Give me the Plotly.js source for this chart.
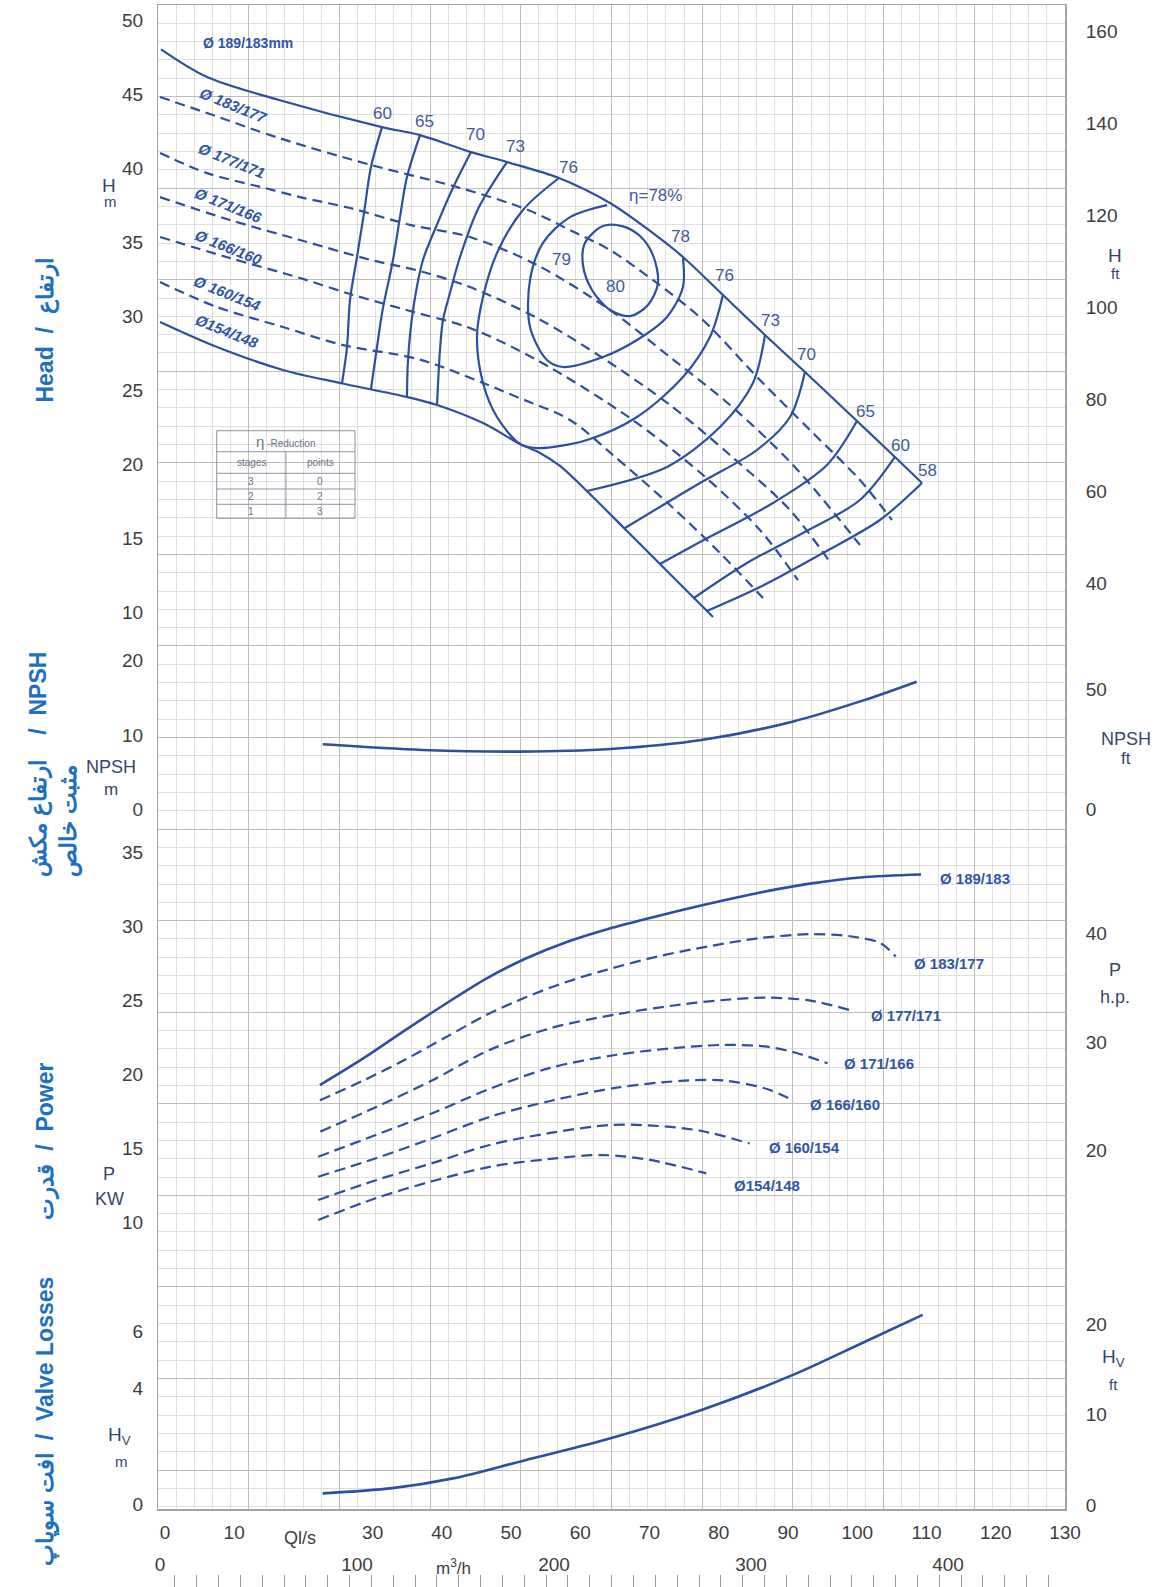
<!DOCTYPE html>
<html>
<head>
<meta charset="utf-8">
<script src="https://cdn.plot.ly/plotly-3.0.1.min.js"></script>
<style>
  html, body { margin: 0; padding: 0; background: #ffffff; }
  #chart { width: 1164px; height: 1587px; }
</style>
</head>
<body>
<div id="chart"></div>
<script>
// ---------- Head H [m] against flow Q [l/s], one curve per impeller diameter ----------
const qHead189 = [-0.57, 6.08, 16.47, 31.35, 36.84, 44.20, 49.40, 56.91, 64.28, 70.06, 74.82, 80.60, 86.67, 92.44, 99.95, 105.44, 109.34];
const hHead189 = [48.03, 46.16, 44.61, 42.78, 42.24, 41.09, 40.42, 39.34, 37.65, 35.76, 34.00, 31.43, 28.73, 26.23, 22.92, 20.49, 18.73];
const qHead183 = [-0.71, 6.08, 16.48, 29.76, 42.18, 52.44, 58.50, 64.28, 71.07, 77.71, 85.94, 93.16, 100.38, 105.01];
const hHead183 = [44.81, 43.73, 42.04, 40.22, 38.73, 37.18, 35.82, 34.47, 32.24, 29.74, 25.69, 22.31, 18.93, 16.23];
const qHead177 = [-0.71, 6.08, 13.88, 19.51, 26.73, 35.54, 44.06, 53.74, 64.28, 72.94, 81.61, 90.71, 100.38];
const hHead177 = [41.03, 39.67, 38.73, 38.05, 37.31, 36.16, 35.35, 33.46, 30.42, 27.24, 24.00, 19.95, 14.54];
const qHead171 = [-0.71, 9.40, 19.51, 29.76, 36.84, 44.06, 53.74, 63.27, 72.94, 81.61, 90.28, 96.05];
const hHead171 = [38.05, 36.50, 35.15, 33.80, 33.05, 31.97, 29.88, 27.17, 24.00, 20.62, 16.90, 13.39];
const qHead166 = [-0.71, 9.40, 19.51, 26.73, 35.40, 44.06, 53.74, 67.17, 77.71, 85.94, 91.43];
const hHead166 = [35.35, 33.93, 32.58, 31.50, 30.35, 29.20, 27.04, 23.12, 19.27, 15.55, 12.17];
const qHead160 = [-0.71, 7.52, 17.05, 25.72, 35.40, 39.29, 45.94, 50.85, 58.50, 64.71, 72.94, 80.17, 86.38];
const hHead160 = [32.31, 30.62, 29.27, 28.05, 27.24, 26.70, 25.49, 24.54, 22.99, 20.62, 17.24, 14.00, 10.96];
const qHead154 = [-0.71, 7.52, 17.05, 25.29, 34.96, 39.30, 45.94, 51.28, 54.17, 57.06, 61.82, 66.73, 71.79, 76.99, 79.16];
const hHead154 = [29.61, 27.92, 26.37, 25.49, 24.54, 24.00, 22.78, 21.37, 20.76, 19.88, 17.78, 15.49, 13.12, 10.69, 9.68];

// ---------- Iso-efficiency lines (Q, H) ----------
const qEff60 = [31.35, 29.76, 28.75, 27.74, 26.73, 26.30, 25.58];
const hEff60 = [42.78, 40.08, 36.97, 34.00, 31.09, 27.92, 25.49];
const qEff65 = [36.84, 34.96, 33.95, 32.94, 31.44, 30.63, 29.76];
const hEff65 = [42.24, 39.40, 36.70, 33.80, 30.42, 27.92, 25.08];
const qEff70 = [44.20, 41.46, 39.15, 37.27, 35.84, 35.11, 34.96];
const hEff70 = [41.09, 38.53, 36.03, 33.80, 30.42, 27.04, 24.54];
const qEff73 = [49.40, 45.36, 42.62, 41.17, 40.16, 39.73, 39.30];
const hEff73 = [40.42, 37.38, 34.00, 31.57, 29.74, 27.72, 24.00];
const qEff76 = [56.91, 51.71, 47.96, 45.94, 45.07, 45.94, 47.96, 51.28, 53.74, 60.96, 68.18, 74.82, 78.72, 80.60];
const hEff76 = [39.34, 37.18, 34.27, 31.30, 28.59, 25.49, 23.19, 21.37, 21.09, 21.64, 23.19, 25.89, 28.59, 31.43];
const qEff79 = [63.85, 58.50, 54.60, 52.73, 52.73, 55.18, 57.49, 63.27, 68.18, 72.51, 74.82, 74.82];
const hEff79 = [37.51, 36.70, 34.95, 32.45, 29.27, 27.04, 26.57, 27.24, 28.39, 29.95, 31.97, 33.93];
const qEff80 = [63.27, 60.67, 60.38, 61.68, 64.28, 67.17, 69.77, 71.21, 70.49, 68.61, 66.01, 63.27];
const hEff80 = [36.09, 34.95, 33.46, 31.77, 30.42, 30.01, 30.76, 32.24, 34.13, 35.42, 36.09, 36.09];
const qEff73R = [86.67, 84.93, 80.17, 72.51, 60.96];
const hEff73R = [28.73, 25.49, 22.52, 19.81, 18.19];
const qEff70R = [92.44, 90.28, 85.51, 77.28, 66.45];
const hEff70R = [26.23, 23.19, 20.96, 18.73, 15.69];
const qEff65R = [99.95, 95.62, 87.82, 77.28, 71.50];
const hEff65R = [22.92, 19.95, 17.38, 14.74, 13.26];
const qEff60R = [105.44, 100.38, 92.15, 84.07, 76.41];
const hEff60R = [20.49, 17.58, 15.35, 13.32, 10.96];
const qEff58R = [109.34, 103.27, 95.04, 85.94, 78.29];
const hEff58R = [18.73, 16.23, 14.00, 11.70, 10.08];

// Efficiency labels
const effText = ['60', '65', '70', '73', '76', 'η=78%', '78', '76', '73', '70', '65', '60', '58', '79', '80'];
const effQ = [31.44, 37.42, 44.88, 50.70, 58.36, 70.92, 74.53, 80.85, 87.53, 92.69, 101.17, 106.31, 110.21, 57.32, 65.06];
const effH = [43.70, 43.16, 42.27, 41.44, 40.08, 38.16, 35.42, 32.76, 29.74, 27.43, 23.53, 21.27, 19.56, 33.80, 32.01];

// Diameter labels on the head curves
const headDiaText = ['Ø 189/183mm', 'Ø 183/177', 'Ø 177/171', 'Ø 171/166', 'Ø 166/160', 'Ø 160/154', 'Ø154/148'];
const headDiaQ = [12.0, 9.95, 9.66, 9.23, 9.23, 9.07, 9.07];
const headDiaH = [48.49, 44.25, 40.55, 37.48, 34.61, 31.53, 29.00];

// ---------- NPSH required [m] ----------
const qNpsh = [22.79, 37.23, 51.24, 64.37, 77.50, 90.62, 101.10, 108.57];
const npsh = [8.74, 7.98, 7.76, 8.11, 9.31, 11.76, 14.67, 17.10];

// ---------- Shaft power P [kW] ----------
const qPow189 = [22.38, 28.81, 34.66, 40.50, 46.35, 52.20, 58.05, 63.89, 71.20, 78.51, 85.82, 93.13, 100.44, 109.21];
const pPow189 = [19.29, 21.14, 22.98, 24.76, 26.46, 27.85, 28.95, 29.81, 30.70, 31.52, 32.27, 32.88, 33.30, 33.50];
const qPow183 = [22.38, 28.81, 34.66, 40.50, 46.35, 52.20, 58.05, 63.89, 71.20, 78.51, 85.82, 93.13, 98.97, 103.36, 105.55];
const pPow183 = [18.27, 19.63, 21.00, 22.50, 24.00, 25.23, 26.26, 27.08, 27.97, 28.65, 29.20, 29.47, 29.33, 28.86, 27.97];
const qPow177 = [22.45, 30.59, 38.73, 46.88, 55.64, 65.03, 74.43, 80.69, 86.96, 93.22, 98.85];
const pPow177 = [16.15, 17.83, 19.64, 21.66, 23.12, 24.05, 24.72, 25.03, 25.19, 24.99, 24.36];
const qPow171 = [22.14, 30.59, 38.73, 46.88, 55.64, 65.03, 73.18, 80.69, 86.96, 91.35, 95.72];
const pPow171 = [14.46, 15.95, 17.41, 19.03, 20.45, 21.32, 21.77, 22.00, 21.88, 21.44, 20.76];
const qPow166 = [22.14, 30.59, 38.73, 46.88, 55.64, 65.03, 74.43, 80.69, 86.96, 90.85];
const pPow166 = [13.11, 14.37, 15.72, 17.14, 18.22, 19.10, 19.57, 19.60, 19.03, 18.22];
const qPow160 = [22.14, 30.59, 38.73, 46.88, 55.64, 64.41, 71.30, 77.57, 84.46];
const pPow160 = [11.54, 12.89, 14.04, 15.25, 16.06, 16.60, 16.53, 16.19, 15.35];
const qPow154 = [22.14, 30.59, 38.73, 46.88, 55.64, 63.15, 70.06, 78.19];
const pPow154 = [10.19, 11.68, 12.82, 13.77, 14.31, 14.57, 14.24, 13.33];

const powDiaText = ['Ø 189/183', 'Ø 183/177', 'Ø 177/171', 'Ø 171/166', 'Ø 166/160', 'Ø 160/154', 'Ø154/148'];
const powDiaQ = [116.99, 113.24, 107.09, 103.15, 98.25, 92.33, 86.91];
const powDiaP = [33.23, 27.49, 24.01, 20.73, 17.99, 15.06, 12.53];

// ---------- Valve losses Hv [m] ----------
const qValve = [22.79, 32.85, 41.60, 51.24, 64.37, 77.50, 90.62, 101.10, 109.44];
const hValve = [0.37, 0.55, 0.89, 1.47, 2.28, 3.26, 4.47, 5.63, 6.56];

// ---------- Axis tick values ----------
const flowTicks = [0, 10, 30, 40, 50, 60, 70, 80, 90, 100, 110, 120, 130];
const cubicTicks = [0, 100, 200, 300, 400];
const headTicks = [10, 15, 20, 25, 30, 35, 40, 45, 50];
const headFtTicks = [40, 60, 80, 100, 120, 140, 160];
const npshTicks = [0, 10, 20];
const npshFtTicks = [0, 50];
const powerTicks = [10, 15, 20, 25, 30, 35];
const hpTicks = [20, 30, 40];
const valveTicks = [0, 4, 6];
const valveFtTicks = [0, 10, 20];

// Efficiency-reduction table
const reductionStages = ['3', '2', '1'];
const reductionPoints = ['0', '2', '3'];

// ---------------------------------------------------------------------------
const BLUE = '#2c4f9f';
const TXT = '#3d3d3d';
const FONT = 'Liberation Sans, Arial, sans-serif';

function curve(q, v, yaxis, dashed, width) {
  return {
    type: 'scatter', mode: 'lines', x: q, y: v, xaxis: 'x2', yaxis: yaxis,
    line: { color: BLUE, width: width || 2.2, shape: 'spline', smoothing: 0.9, dash: dashed ? dashed : 'solid' },
    hoverinfo: 'skip', showlegend: false
  };
}
function placeholder(xa, ya) {
  return { type: 'scatter', mode: 'markers', x: [null], y: [null], xaxis: xa, yaxis: ya, hoverinfo: 'skip', showlegend: false };
}

const HD = '10px,6px';
const PD = '11px,6px';

const traces = [
  placeholder('x', 'y'),
  // head panel
  curve(qHead189, hHead189, 'y2'),
  curve(qHead183, hHead183, 'y2', HD),
  curve(qHead177, hHead177, 'y2', HD),
  curve(qHead171, hHead171, 'y2', HD),
  curve(qHead166, hHead166, 'y2', HD),
  curve(qHead160, hHead160, 'y2', HD),
  curve(qHead154, hHead154, 'y2'),
  curve(qEff60, hEff60, 'y2'),
  curve(qEff65, hEff65, 'y2'),
  curve(qEff70, hEff70, 'y2'),
  curve(qEff73, hEff73, 'y2'),
  curve(qEff76, hEff76, 'y2'),
  curve(qEff79, hEff79, 'y2'),
  curve(qEff80, hEff80, 'y2'),
  curve(qEff73R, hEff73R, 'y2'),
  curve(qEff70R, hEff70R, 'y2'),
  curve(qEff65R, hEff65R, 'y2'),
  curve(qEff60R, hEff60R, 'y2'),
  curve(qEff58R, hEff58R, 'y2'),
  placeholder('x2', 'y3'),
  // NPSH panel
  curve(qNpsh, npsh, 'y4', null, 2.6),
  placeholder('x2', 'y5'),
  // power panel
  curve(qPow189, pPow189, 'y6', null, 2.6),
  curve(qPow183, pPow183, 'y6', PD),
  curve(qPow177, pPow177, 'y6', PD),
  curve(qPow171, pPow171, 'y6', PD),
  curve(qPow166, pPow166, 'y6', PD),
  curve(qPow160, pPow160, 'y6', PD),
  curve(qPow154, pPow154, 'y6', PD),
  placeholder('x2', 'y7'),
  // valve losses panel
  curve(qValve, hValve, 'y8', null, 2.6),
  placeholder('x2', 'y9'),
  placeholder('x3', 'y8'),
  placeholder('x4', 'y8')
];

// Panel domains (fraction of the plotting height)
const DOM_HEAD = [0.59355, 1.0];
const DOM_NPSH = [0.47851, 0.59355];
const DOM_POW = [0.18963, 0.47851];
const DOM_VALVE = [0.04930, 0.18963];

function leftAxis(domain, range, ticks) {
  return {
    domain: domain, range: range, anchor: 'x2', tickmode: 'array', tickvals: ticks,
    showgrid: false, zeroline: false, showline: false,
    ticks: 'outside', ticklen: 10, tickcolor: 'rgba(0,0,0,0)',
    tickfont: { size: 19, color: TXT, family: FONT }, fixedrange: true
  };
}
function rightAxis(over, range, ticks) {
  return {
    overlaying: over, side: 'right', anchor: 'x2', range: range, tickmode: 'array', tickvals: ticks,
    showgrid: false, zeroline: false, showline: false,
    ticks: 'outside', ticklen: 16, tickcolor: 'rgba(0,0,0,0)',
    tickfont: { size: 19, color: TXT, family: FONT }, fixedrange: true
  };
}

const annotations = [];
function note(x, y, xref, yref, text, font, extra) {
  const a = { x: x, y: y, xref: xref, yref: yref, text: text, showarrow: false,
    xanchor: 'center', yanchor: 'middle', font: font };
  if (extra) Object.assign(a, extra);
  annotations.push(a);
}

// efficiency values
effText.forEach((t, i) => note(effQ[i], effH[i], 'x2', 'y2', t, { size: 17, color: '#3e5a9c', family: FONT }));
// diameters on the head curves
headDiaText.forEach((t, i) => note(headDiaQ[i], headDiaH[i], 'x2', 'y2',
  i === 0 ? '<b>' + t + '</b>' : '<b><i>' + t + '</i></b>',
  { size: i === 0 ? 14 : 15, color: '#2f55a3', family: FONT },
  { textangle: i === 0 ? 0 : 22 }));
// diameters on the power curves
powDiaText.forEach((t, i) => note(powDiaQ[i], powDiaP[i], 'x2', 'y6', '<b>' + t + '</b>',
  { size: 15, color: '#2f55a3', family: FONT }));

// unit labels beside the axes (paper fractions of the plotting area)
const UNIT = '#34466e';
function unit(x, y, text, size) {
  note(x, y, 'paper', 'paper', text, { size: size, color: UNIT, family: FONT });
}
unit(-0.0536, 0.88621, 'H', 19);   unit(-0.0525, 0.87597, 'm', 15);
unit(-0.0515, 0.51833, 'NPSH', 18); unit(-0.0515, 0.50424, 'm', 17);
unit(-0.0536, 0.26087, 'P', 18);   unit(-0.0536, 0.24551, 'KW', 18);
unit(-0.0426, 0.09526, 'H<sub>V</sub>', 19); unit(-0.0402, 0.07926, 'm', 15);
unit(1.0556, 0.84197, 'H', 19);    unit(1.0556, 0.83040, 'ft', 15);
unit(1.0668, 0.53603, 'NPSH', 18); unit(1.0668, 0.52339, 'ft', 17);
unit(1.0556, 0.39000, 'P', 18);    unit(1.0556, 0.37295, 'h.p.', 18);
unit(1.0534, 0.14450, 'H<sub>V</sub>', 19); unit(1.0534, 0.12788, 'ft', 15);
note(0.1561, 0.03066, 'paper', 'paper', 'Ql/s', { size: 18, color: TXT, family: FONT });
note(0.3258, 0.01264, 'paper', 'paper', 'm<sup>3</sup>/h', { size: 17, color: TXT, family: FONT });

// panel titles along the left edge
const TITLE = '#1c6fc2';
const NB = '\u00a0';
const TFONT = { size: 23, color: TITLE, family: FONT };
note(-0.1240, 0.79393, 'paper', 'paper', '<b>Head' + NB + NB + '/' + NB + NB + 'ارتفاع</b>', TFONT, { textangle: -90 });
note(-0.1150, 0.52023, 'paper', 'paper',
  '<b>ارتفاع مکش' + NB + NB + NB + NB + '/' + NB + NB + 'NPSH<br>مثبت خالص</b>', TFONT, { textangle: -90, align: 'left' });
note(-0.1240, 0.28192, 'paper', 'paper', '<b>قدرت' + NB + NB + '/' + NB + NB + 'Power</b>', TFONT, { textangle: -90 });
note(-0.1240, 0.10493, 'paper', 'paper', '<b>افت سوپاپ' + NB + NB + '/' + NB + NB + 'Valve Losses</b>', TFONT, { textangle: -90 });

// efficiency reduction table
const TB = { x0: 0.06472, xm: 0.14112, x1: 0.2172, rows: [0.73091, 0.71764, 0.70398, 0.69406, 0.68439, 0.67554] };
const TLINE = { color: '#8a93a8', width: 1 };
const shapes = [
  { type: 'rect', xref: 'paper', yref: 'paper', x0: TB.x0, x1: TB.x1, y0: TB.rows[5], y1: TB.rows[0], line: TLINE }
];
for (let r = 1; r < 5; r++) {
  shapes.push({ type: 'line', xref: 'paper', yref: 'paper', x0: TB.x0, x1: TB.x1, y0: TB.rows[r], y1: TB.rows[r], line: TLINE });
}
shapes.push({ type: 'line', xref: 'paper', yref: 'paper', x0: TB.xm, x1: TB.xm, y0: TB.rows[5], y1: TB.rows[1], line: TLINE });
const TTXT = { size: 10, color: '#6a7187', family: FONT };
note((TB.x0 + TB.x1) / 2, (TB.rows[0] + TB.rows[1]) / 2, 'paper', 'paper',
  '<span style="font-size:15px">η</span> -Reduction', TTXT);
note((TB.x0 + TB.xm) / 2, (TB.rows[1] + TB.rows[2]) / 2, 'paper', 'paper', 'stages', TTXT);
note((TB.xm + TB.x1) / 2, (TB.rows[1] + TB.rows[2]) / 2, 'paper', 'paper', 'points', TTXT);
reductionStages.forEach((s, i) => {
  const yc = (TB.rows[i + 2] + TB.rows[i + 3]) / 2;
  note((TB.x0 + TB.xm) / 2, yc, 'paper', 'paper', s, TTXT);
  note((TB.xm + TB.x1) / 2, yc, 'paper', 'paper', reductionPoints[i], TTXT);
});

const layout = {
  width: 1164, height: 1587,
  margin: { l: 158, r: 99, t: 5, b: 0 },
  paper_bgcolor: '#ffffff', plot_bgcolor: 'rgba(0,0,0,0)',
  font: { family: FONT, color: TXT },
  showlegend: false,
  // squared paper behind all panels
  xaxis: {
    domain: [0, 1], range: [0, 10], anchor: 'y', tick0: 0, dtick: 1,
    showgrid: true, gridcolor: '#bcbcbc', gridwidth: 1,
    minor: { tick0: 0, dtick: 0.2, showgrid: true, gridcolor: '#dfdfdf', gridwidth: 1 },
    showticklabels: false, ticks: '', zeroline: false,
    showline: true, mirror: true, linecolor: '#a3a3a3', linewidth: 1.5, fixedrange: true
  },
  yaxis: {
    domain: [0.04930, 1], range: [16.426, 0], anchor: 'x', tick0: 0, dtick: 1,
    showgrid: true, gridcolor: '#bcbcbc', gridwidth: 1,
    minor: { tick0: 0, dtick: 0.2, showgrid: true, gridcolor: '#dfdfdf', gridwidth: 1 },
    showticklabels: false, ticks: '', zeroline: false,
    showline: true, mirror: true, linecolor: '#a3a3a3', linewidth: 1.5, fixedrange: true
  },
  // flow in l/s
  xaxis2: {
    domain: [0, 1], range: [-1, 130], anchor: 'y8', tickmode: 'array', tickvals: flowTicks,
    showgrid: false, zeroline: false, showline: false,
    ticks: 'outside', ticklen: 6, tickcolor: 'rgba(0,0,0,0)',
    tickfont: { size: 19, color: TXT, family: FONT }, fixedrange: true
  },
  // flow in m3/h
  xaxis3: {
    overlaying: 'x2', anchor: 'free', position: 0.02276, side: 'bottom', range: [-1.0, 459.4],
    tickmode: 'array', tickvals: cubicTicks, showgrid: false, zeroline: false, showline: false,
    ticks: '', tickfont: { size: 19, color: TXT, family: FONT }, fixedrange: true
  },
  // flow in US gpm (scale marks only)
  xaxis4: {
    overlaying: 'x2', anchor: 'free', position: 0, side: 'bottom', range: [-15.85, 2060.5],
    tick0: 22.7, dtick: 50, ticks: 'inside', ticklen: 12, tickcolor: '#9a9a9a', tickwidth: 1,
    showticklabels: false, showgrid: false, zeroline: false, showline: false, fixedrange: true
  },
  yaxis2: leftAxis(DOM_HEAD, [7.58, 51.03], headTicks),
  yaxis3: rightAxis('y2', [25.86, 165.74], headFtTicks),
  yaxis4: leftAxis(DOM_NPSH, [-2.71, 21.6], npshTicks),
  yaxis5: rightAxis('y4', [-8.43, 67.15], npshFtTicks),
  yaxis6: leftAxis(DOM_POW, [5.667, 36.5], powerTicks),
  yaxis7: rightAxis('y6', [7.48, 49.49], hpTicks),
  yaxis8: leftAxis(DOM_VALVE, [-0.173, 7.527], valveTicks),
  yaxis9: rightAxis('y8', [-0.44, 24.09], valveFtTicks),
  annotations: annotations,
  shapes: shapes
};

Plotly.newPlot('chart', traces, layout, { staticPlot: true, displayModeBar: false });
</script>
</body>
</html>
